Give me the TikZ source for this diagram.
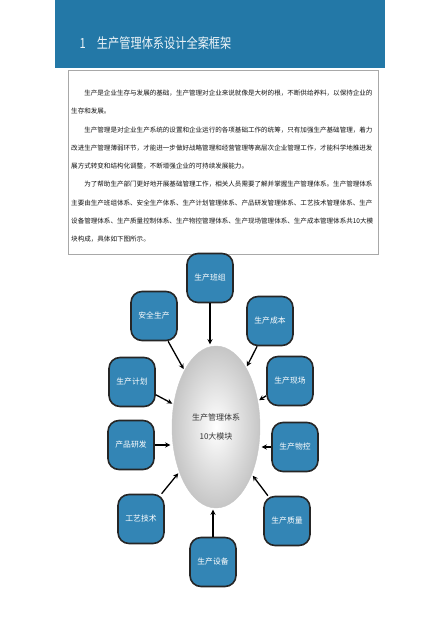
\documentclass[tikz,border=0pt]{standalone}
\usepackage{fontspec}
\setmainfont{Noto Sans CJK SC}
\usepackage{graphicx}
\usepackage{xcolor}
\usetikzlibrary{shapes,arrows,positioning}

\definecolor{headblue}{HTML}{2378A7}
\definecolor{modblue}{HTML}{3385B5}
\definecolor{boxgray}{HTML}{A8A8A8}

\begin{document}
\begin{tikzpicture}[
    x=1pt, y=-1pt,
    module/.style={rectangle, draw=black!85, line width=1.6pt, rounded corners=11pt, fill=modblue, minimum width=46pt, minimum height=49pt, inner sep=1pt, font=\fontsize{7.8}{9}\selectfont, text=white},
    core/.style={ellipse, draw=gray!45, inner color=white, outer color=gray!45, minimum width=88pt, minimum height=162pt, align=center, font=\fontsize{8}{19}\selectfont, text=black!80},
    arrow/.style={->, line width=1.3pt, >=stealth, shorten >=1.5pt},
]
\useasboundingbox (0,0) rectangle (440,620);

% Header band
\fill[headblue] (55,0) rectangle (385,68);
\node[anchor=west, text=white!92!headblue, font=\fontsize{14}{14}\selectfont] (title) at (76,43)
    {\scalebox{0.8}[1]{1\hspace{14pt}生产管理体系设计全案框架}};

% Text box
\draw[boxgray, line width=0.8pt, fill=white] (68,70) rectangle (378,254);
\node[anchor=north west, inner sep=0pt, text width=305pt, align=left, text=black!92, font=\fontsize{6.55}{18.25}\selectfont] (intro) at (71,89.8) {%
\hspace*{13.1pt}生产是企业生存与发展的基础，生产管理对企业来说就像是大树的根，不断供给养料，以保持企业的\\
生存和发展。\\
\hspace*{13.1pt}生产管理是对企业生产系统的设置和企业运行的各项基础工作的统筹，只有加强生产基础管理，着力\\
改进生产管理薄弱环节，才能进一步做好战略管理和经营管理等高层次企业管理工作，才能科学地推进发\\
展方式转变和结构化调整，不断增强企业的可持续发展能力。\\
\hspace*{13.1pt}为了帮助生产部门更好地开展基础管理工作，相关人员需要了解并掌握生产管理体系。生产管理体系\\
主要由生产班组体系、安全生产体系、生产计划管理体系、产品研发管理体系、工艺技术管理体系、生产\\
设备管理体系、生产质量控制体系、生产物控管理体系、生产现场管理体系、生产成本管理体系共10大模\\
块构成，具体如下图所示。};

% Core
\node[core] (core) at (216,427) {生产管理体系\\10大模块};

% Modules
\node[module] (banzu) at (210,278) {生产班组};
\node[module] (anquan) at (154,316) {安全生产};
\node[module] (chengben) at (270,321) {生产成本};
\node[module] (jihua) at (132,382) {生产计划};
\node[module] (xianchang) at (290,381) {生产现场};
\node[module] (yanfa) at (131,445) {产品研发};
\node[module] (wukong) at (295,447) {生产物控};
\node[module] (gongyi) at (141,519) {工艺技术};
\node[module] (zhiliang) at (287,521) {生产质量};
\node[module] (shebei) at (213,562) {生产设备};

% Arrows
\draw[arrow] (banzu.south) -- (banzu.south |- core.north);
\draw[arrow] (anquan) -- (core);
\draw[arrow] (chengben) -- (core);
\draw[arrow] (jihua) -- (core);
\draw[arrow] (xianchang) -- (core);
\draw[arrow] (yanfa.east) -- (yanfa.east -| core.west);
\draw[arrow] (wukong.west) -- (wukong.west -| core.east);
\draw[arrow] (gongyi) -- (core);
\draw[arrow] (zhiliang) -- (core);
\draw[arrow] (shebei.north) -- (shebei.north |- core.south);

\end{tikzpicture}
\end{document}
